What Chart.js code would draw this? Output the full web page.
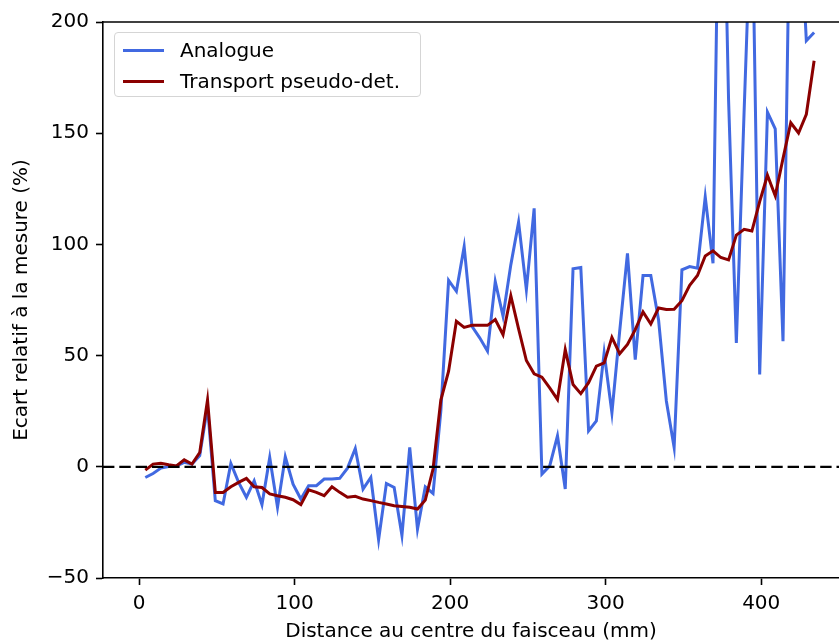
<!DOCTYPE html>
<html>
<head>
<meta charset="utf-8">
<script src="https://cdn.jsdelivr.net/npm/chart.js@4.4.1/dist/chart.umd.min.js"></script>
<style>
  body { margin: 0; background: #fff; }
  #wrap { position: relative; width: 839px; height: 644px; }
  #legend {
    position: absolute; left: 114px; top: 32px; width: 305px; height: 63px;
    border: 1px solid #d5d5d5; border-radius: 4px; background: rgba(255,255,255,0.85);
    font-family: "DejaVu Sans", sans-serif; font-size: 20px; color: #000;
  }
  .item { position: absolute; left: 0; height: 24px; line-height: 24px; }
  .swatch { position: absolute; left: 8px; top: 11px; width: 41px; height: 3px; }
  .label { position: absolute; left: 65px; top: 0; white-space: nowrap; }
</style>
</head>
<body>
<div id="wrap">
  <canvas id="chart" width="839" height="644"></canvas>
  <div id="legend"></div>
</div>
<script>
// distance from beam centre (mm)
const distances = [4,9,14,19,24,29,34,39,44,49,54,59,64,69,74,79,84,89,94,99,
  104,109,114,119,124,129,134,139,144,149,154,159,164,169,174,179,184,189,194,199,
  204,209,214,219,224,229,234,239,244,249,254,259,264,269,274,279,284,289,294,299,
  304,309,314,319,324,329,334,339,344,349,354,359,364,369,374,379,384,389,394,399,
  404,409,414,419,424,429,434];

// relative deviation (%) - analogue run
const analogue = [-4.8,-3,-0.6,0.1,0.4,2,1.2,5,27,-15.2,
  -16.7,1.5,-7,-13.7,-6.3,-17,4.2,-18.2,4.5,-7.8,
  -14.5,-8.5,-8.5,-5.5,-5.5,-5.2,-0.6,8.2,-10,-4.8,
  -32.8,-7.5,-9.3,-30.9,8.7,-28,-9,-12,25,83.8,
  78.9,99,63.2,58,52,83.3,67.7,90.8,110,79.6,
  116.2,-3.3,0.4,13.9,-10,89,89.6,16.1,20.6,51.2,
  24.3,61,96,48.2,86,86,66,29.6,8.7,88.6,
  90,89.3,121.4,91.5,330,165,55.7,160,260,41.5,
  159.5,152,56.5,280,260,191.6,195.3];

// relative deviation (%) - pseudo-deterministic transport
const transport = [-1.5,1.2,1.6,0.9,0.4,3.1,1.2,6.4,30,-11.5,
  -11.5,-9,-7,-5.2,-9,-9.3,-12.2,-13,-13.7,-14.8,
  -17,-10.4,-11.5,-13,-9,-11.5,-13.7,-13.3,-14.5,-15.2,
  -16,-16.7,-17.5,-17.8,-18.2,-19,-15,-1,30,43,
  65.4,62.7,63.6,63.6,63.6,66.2,59.4,76.9,62,47.8,
  41.8,40.3,35.5,30.3,52.7,37,32.9,37.8,45.3,46.7,
  58.2,50.8,55,61.7,69.6,64.2,71.4,70.7,70.8,74.7,
  81.6,86,94.8,97.1,94.1,93,104.2,106.8,106,119.2,
  131.1,121.9,138.6,154.7,150.1,158.5,182.6];

const xTicks = [0, 100, 200, 300, 400];
const yTicks = [-50, 0, 50, 100, 150, 200];
const xMin = -23.2, xMax = 450;
const yMin = -50, yMax = 200;

const FONT = "DejaVu Sans";

const toPoints = (ys) => ys.map((y, i) => ({ x: distances[i], y }));

const series = [
  { label: "Analogue", data: analogue, color: "#4169e1" },
  { label: "Transport pseudo-det.", data: transport, color: "#8b0000" }
];

// top spine
const topSpine = {
  id: "topSpine",
  afterDraw(chart) {
    const { ctx, chartArea } = chart;
    ctx.save();
    ctx.strokeStyle = "#000";
    ctx.lineWidth = 1.6;
    ctx.beginPath();
    ctx.moveTo(chartArea.left, chartArea.top);
    ctx.lineTo(chartArea.right, chartArea.top);
    ctx.stroke();
    ctx.restore();
  }
};

const axisCommon = {
  border: { display: true, color: "#000", width: 1.6 },
  grid: { drawOnChartArea: false, drawTicks: true, tickLength: 7, tickWidth: 1.6, color: "#000" },
  ticks: { color: "#000", padding: 7, font: { family: FONT, size: 20 } },
  title: { display: true, color: "#000", font: { family: FONT, size: 20, lineHeight: 1.2 } }
};

new Chart(document.getElementById("chart"), {
  type: "line",
  data: {
    datasets: [
      {
        label: "zero",
        data: [{ x: xMin, y: 0 }, { x: xMax, y: 0 }],
        borderColor: "#000",
        borderWidth: 2.2,
        borderDash: [11.4, 4.9],
        pointRadius: 0
      },
      {
        label: series[1].label,
        data: toPoints(series[1].data),
        borderColor: series[1].color,
        borderWidth: 3,
        pointRadius: 0,
        tension: 0
      },
      {
        label: series[0].label,
        data: toPoints(series[0].data),
        borderColor: series[0].color,
        borderWidth: 3,
        pointRadius: 0,
        tension: 0
      }
    ]
  },
  options: {
    responsive: false,
    animation: false,
    devicePixelRatio: 1,
    layout: { padding: { top: 22, left: 0, right: 0, bottom: 0 } },
    plugins: { legend: { display: false }, tooltip: { enabled: false } },
    scales: {
      x: {
        ...axisCommon,
        type: "linear",
        min: xMin,
        max: xMax,
        border: { display: true, color: "#000", width: 1.6 },
        afterBuildTicks: (s) => { s.ticks = xTicks.map((v) => ({ value: v })); },
        afterFit: (s) => { s.height = 66; },
        title: { ...axisCommon.title, text: "Distance au centre du faisceau (mm)", padding: { top: 0, bottom: 0 } }
      },
      y: {
        ...axisCommon,
        min: yMin,
        max: yMax,
        afterBuildTicks: (s) => { s.ticks = yTicks.map((v) => ({ value: v })); },
        afterFit: (s) => { s.width = 103; },
        ticks: { ...axisCommon.ticks, callback: (v) => String(v).replace("-", "\u2212") },
        title: { ...axisCommon.title, text: "Ecart relatif à la mesure (%)", padding: { top: 10, bottom: 0 } }
      }
    }
  },
  plugins: [topSpine]
});

// legend built from the series
const legendEl = document.getElementById("legend");
series.forEach((s, i) => {
  const item = document.createElement("div");
  item.className = "item";
  item.style.top = (5 + i * 31) + "px";
  item.innerHTML = `<span class="swatch" style="background:${s.color}"></span><span class="label"></span>`;
  item.querySelector(".label").textContent = s.label;
  legendEl.appendChild(item);
});
</script>
</body>
</html>
